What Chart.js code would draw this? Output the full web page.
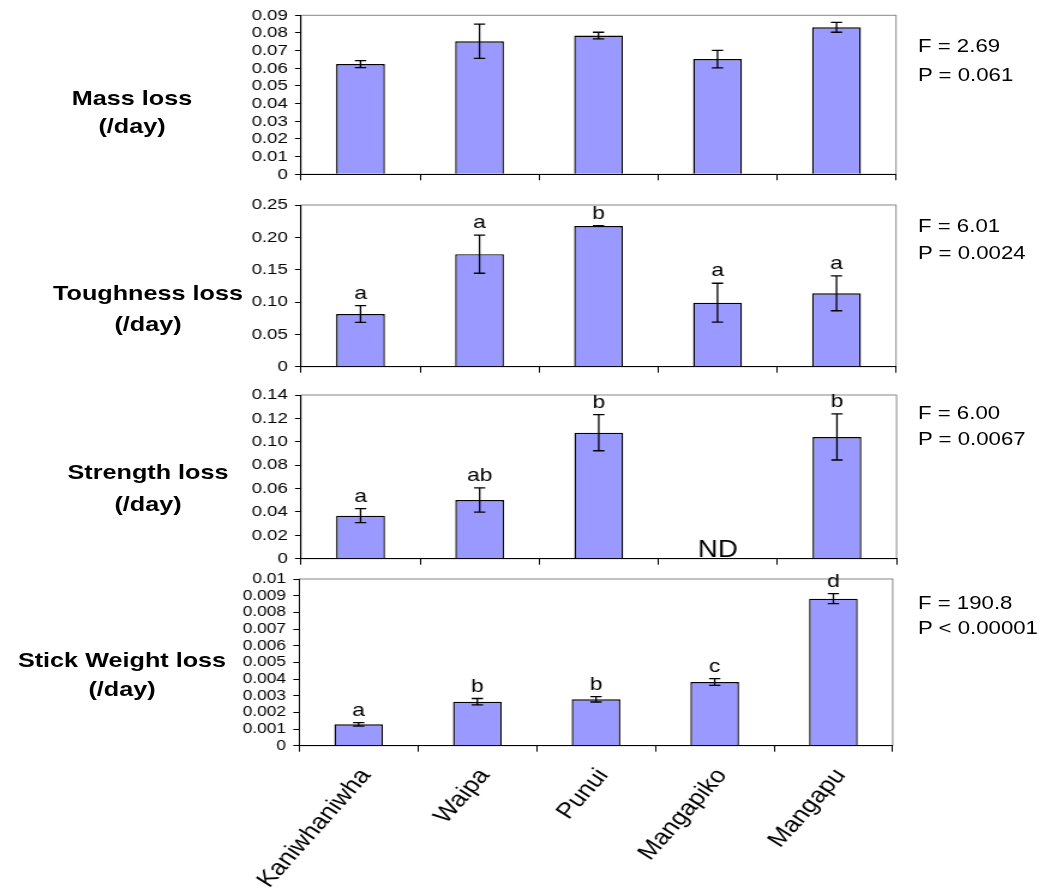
<!DOCTYPE html>
<html>
<head>
<meta charset="utf-8">
<script src="https://cdn.jsdelivr.net/npm/chart.js@4.4.1/dist/chart.umd.min.js"></script>
<style>
  html, body { margin: 0; padding: 0; background: #fff; }
  body { width: 1041px; height: 895px; overflow: hidden; position: relative; }
  /* the original figure is stretched ~1.2x horizontally, so draw narrow and stretch */
  #stage { position: absolute; left: 0; top: 0; width: 868px; height: 895px;
           transform: scaleX(1.2); transform-origin: 0 0;
           font-family: 'Liberation Sans', Arial, sans-serif; color: #000; }
  #stage canvas { position: absolute; left: 0; top: 0; }
  .lbl { position: absolute; white-space: nowrap; line-height: 1; }
</style>
</head>
<body>
<div id="stage"></div>
<script>
const sites = ['Kaniwhaniwha', 'Waipa', 'Punui', 'Mangapiko', 'Mangapu'];

// Mass loss (/day)
const massMean = [0.0624, 0.0753, 0.0785, 0.0652, 0.0832];
const massErr = [0.0020, 0.0097, 0.0019, 0.0050, 0.0028];
const massTicks = [0, 0.01, 0.02, 0.03, 0.04, 0.05, 0.06, 0.07, 0.08, 0.09];
const massTickLabels = ['0', '0.01', '0.02', '0.03', '0.04', '0.05', '0.06', '0.07', '0.08', '0.09'];
const massStats = ['F = 2.69', 'P = 0.061'];

// Toughness loss (/day)
const toughMean = [0.0815, 0.1740, 0.2175, 0.0990, 0.1135];
const toughErr = [0.0130, 0.0295, 0.0005, 0.0300, 0.0270];
const toughLetters = ['a', 'a', 'b', 'a', 'a'];
const toughTicks = [0, 0.05, 0.10, 0.15, 0.20, 0.25];
const toughTickLabels = ['0', '0.05', '0.10', '0.15', '0.20', '0.25'];
const toughStats = ['F = 6.01', 'P = 0.0024'];

// Strength loss (/day) - Mangapiko not determined
const strengthMean = [0.0368, 0.0502, 0.1078, null, 0.1041];
const strengthErr = [0.0060, 0.0103, 0.0155, null, 0.0197];
const strengthLetters = ['a', 'ab', 'b', '', 'b'];
const strengthNotes = ['', '', '', 'ND', ''];
const strengthTicks = [0, 0.02, 0.04, 0.06, 0.08, 0.10, 0.12, 0.14];
const strengthTickLabels = ['0', '0.02', '0.04', '0.06', '0.08', '0.10', '0.12', '0.14'];
const strengthStats = ['F = 6.00', 'P = 0.0067'];

// Stick weight loss (/day)
const stickMean = [0.00128, 0.00264, 0.00278, 0.00382, 0.00882];
const stickErr = [0.00010, 0.00019, 0.00016, 0.00020, 0.00030];
const stickLetters = ['a', 'b', 'b', 'c', 'd'];
const stickTicks = [0, 0.001, 0.002, 0.003, 0.004, 0.005, 0.006, 0.007, 0.008, 0.009, 0.01];
const stickTickLabels = ['0', '0.001', '0.002', '0.003', '0.004', '0.005', '0.006', '0.007', '0.008', '0.009', '0.01'];
const stickStats = ['F = 190.8', 'P < 0.00001'];

const SX = 1.2;          // horizontal stretch of the figure
const W = 868, H = 895;  // stage size before stretch
const FONT = "'Liberation Sans', Arial, sans-serif";
const stage = document.getElementById('stage');

// x values below are in page pixels, converted with SX
const panels = [
  { mean: massMean, err: massErr, letters: null, notes: null, ticks: massTicks, tickLabels: massTickLabels,
    stats: massStats, title: ['Mass loss', '(/day)'], titleX: 132, titleY: [104.5, 132.5], statsY: [53, 82],
    left: 301, right: 896, top: 12.7, bottom: 174.3, tickFont: 15.5 },
  { mean: toughMean, err: toughErr, letters: toughLetters, notes: null, ticks: toughTicks, tickLabels: toughTickLabels,
    stats: toughStats, title: ['Toughness loss', '(/day)'], titleX: 148, titleY: [300, 331], statsY: [233, 260],
    left: 301, right: 896, top: 205, bottom: 366.7, tickFont: 15.5 },
  { mean: strengthMean, err: strengthErr, letters: strengthLetters, notes: strengthNotes, ticks: strengthTicks, tickLabels: strengthTickLabels,
    stats: strengthStats, title: ['Strength loss', '(/day)'], titleX: 148, titleY: [478.5, 510.5], statsY: [420, 446],
    left: 301, right: 896.5, top: 395, bottom: 558.7, tickFont: 15.5 },
  { mean: stickMean, err: stickErr, letters: stickLetters, notes: null, ticks: stickTicks, tickLabels: stickTickLabels,
    stats: stickStats, title: ['Stick Weight loss', '(/day)'], titleX: 122, titleY: [666.5, 696], statsY: [610, 635],
    left: 299.3, right: 892.7, top: 579, bottom: 745.7, tickFont: 14.5, showSites: true }
];

function addText(txt, x, baseline, size, bold, align) {
  const d = document.createElement('div');
  d.className = 'lbl';
  d.textContent = txt;
  d.style.fontSize = size + 'px';
  d.style.fontWeight = bold ? 'bold' : 'normal';
  d.style.top = (baseline - 0.8465 * size) + 'px';
  if (align === 'center') {
    d.style.left = (x / SX - 200) + 'px';
    d.style.width = '400px';
    d.style.textAlign = 'center';
  } else {
    d.style.left = (x / SX) + 'px';
  }
  stage.appendChild(d);
}

// gray frame on top/right of the plot area, axes cover the rest
const framePlugin = {
  id: 'frame',
  beforeDraw(chart) {
    const { ctx, chartArea: a } = chart;
    ctx.save();
    ctx.strokeStyle = '#888';
    ctx.lineWidth = 1;
    ctx.strokeRect(a.left, a.top, a.right - a.left, a.bottom - a.top);
    ctx.restore();
  }
};

// error bars and letters above them
const errorPlugin = {
  id: 'errbars',
  afterDatasetsDraw(chart, args, opts) {
    const { ctx } = chart;
    const y = chart.scales.y;
    const meta = chart.getDatasetMeta(0);
    ctx.save();
    ctx.strokeStyle = '#000';
    ctx.lineWidth = 1.3;
    ctx.fillStyle = '#000';
    opts.mean.forEach((m, i) => {
      const x = meta.data[i].x;
      if (m !== null) {
        const yt = y.getPixelForValue(m + opts.err[i]);
        const yb = y.getPixelForValue(m - opts.err[i]);
        ctx.beginPath();
        ctx.moveTo(x, yt); ctx.lineTo(x, yb);
        ctx.moveTo(x - 4.7, yt); ctx.lineTo(x + 4.7, yt);
        ctx.moveTo(x - 4.7, yb); ctx.lineTo(x + 4.7, yb);
        ctx.stroke();
        if (opts.letters && opts.letters[i]) {
          ctx.font = '19px ' + FONT;
          ctx.textAlign = 'center';
          ctx.textBaseline = 'alphabetic';
          ctx.fillText(opts.letters[i], x, yt - 7);
        }
      }
      if (opts.notes && opts.notes[i]) {
        ctx.font = '23px ' + FONT;
        ctx.textAlign = 'center';
        ctx.textBaseline = 'alphabetic';
        ctx.fillText(opts.notes[i], x, y.getPixelForValue(0) - 2);
      }
    });
    ctx.restore();
  }
};

panels.forEach(p => {
  const canvas = document.createElement('canvas');
  canvas.width = W;
  canvas.height = H;
  stage.appendChild(canvas);

  const xAxisH = p.showSites ? H - p.bottom : 10;

  new Chart(canvas.getContext('2d'), {
    type: 'bar',
    data: {
      labels: sites,
      datasets: [{
        data: p.mean,
        backgroundColor: '#9999FF',
        borderColor: '#000',
        borderWidth: 1.4,
        barPercentage: 0.41,
        categoryPercentage: 1
      }]
    },
    options: {
      responsive: false,
      animation: false,
      devicePixelRatio: 1,
      events: [],
      layout: {
        padding: {
          left: 0,
          right: W - p.right / SX,
          top: p.top,
          bottom: H - p.bottom - xAxisH
        }
      },
      plugins: {
        legend: { display: false },
        tooltip: { enabled: false },
        errbars: { mean: p.mean, err: p.err, letters: p.letters, notes: p.notes }
      },
      scales: {
        x: {
          grid: { offset: true, drawOnChartArea: false, tickLength: 6, color: '#000' },
          border: { color: '#000', width: 1 },
          ticks: {
            display: !!p.showSites,
            autoSkip: false,
            minRotation: 53,
            maxRotation: 53,
            padding: 12,
            labelOffset: 6,
            color: '#000',
            font: { family: FONT, size: 22 }
          },
          afterFit(s) { s.height = xAxisH; }
        },
        y: {
          min: 0,
          max: p.ticks[p.ticks.length - 1],
          afterBuildTicks(s) { s.ticks = p.ticks.map(v => ({ value: v })); },
          grid: { drawOnChartArea: false, tickLength: 5, color: '#000' },
          border: { color: '#000', width: 1 },
          ticks: {
            autoSkip: false,
            padding: 6,
            color: '#000',
            font: { family: FONT, size: p.tickFont },
            callback: (v, i) => p.tickLabels[i]
          },
          afterFit(s) { s.width = p.left / SX; }
        }
      }
    },
    plugins: [framePlugin, errorPlugin]
  });

  addText(p.title[0], p.titleX, p.titleY[0], 21, true, 'center');
  addText(p.title[1], p.titleX, p.titleY[1], 21, true, 'center');
  addText(p.stats[0], 918, p.statsY[0], 18.5, false, 'left');
  addText(p.stats[1], 918, p.statsY[1], 18.5, false, 'left');
});
</script>
</body>
</html>
